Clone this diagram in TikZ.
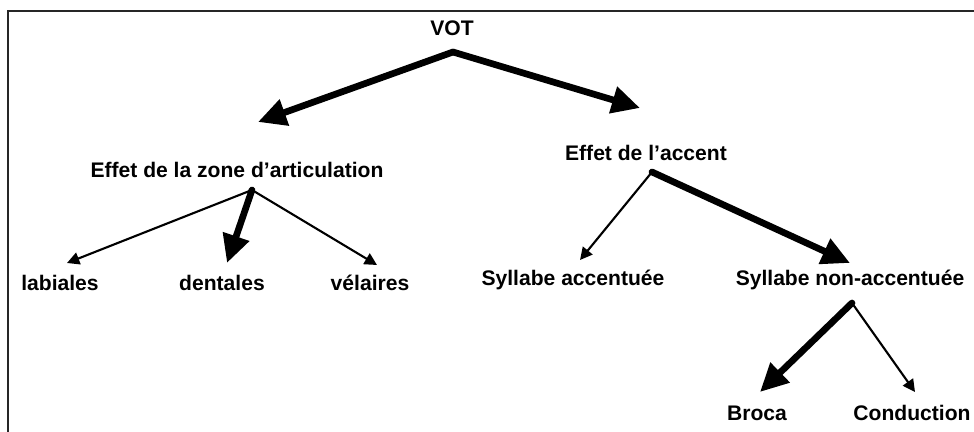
\documentclass[tikz,border=0pt]{standalone}
\usepackage{fontspec}
\setmainfont{Liberation Sans}
\usetikzlibrary{arrows.meta}

\begin{document}
\begin{tikzpicture}[
  x=0.02cm, y=-0.02cm,
  term/.style={font=\bfseries\fontsize{12}{14}\selectfont, inner sep=0pt},
  heavy/.style={line width=3.8pt, line cap=round, -{Triangle[length=16pt, width=15pt]}},
  light/.style={line width=1.2pt, line cap=round, -{Triangle[length=7pt, width=7pt]}}
]
  \useasboundingbox (0,0) rectangle (974,432);
  \clip (0,0) rectangle (974,432);
  \draw[line width=1.3pt, black!85] (8,11) rectangle (990,450);

  % Root
  \node[term] (vot) at (452,28) {VOT};
  \coordinate (vot-a) at (453,52);

  % Left: place of articulation
  \node[term] (zone) at (237,170) {Effet de la zone d'articulation};
  \coordinate (zone-a) at (252,190);
  \coordinate (zone-t) at (258,122);
  \node[term] (lab) at (60,283) {labiales};
  \node[term] (den) at (222,283) {dentales};
  \node[term] (vel) at (370,283) {vélaires};
  \coordinate (lab-t) at (67,263);
  \coordinate (den-t) at (227,263);
  \coordinate (vel-t) at (377,265);

  % Right: stress
  \node[term] (acc) at (646,153) {Effet de l'accent};
  \coordinate (acc-a) at (652,172);
  \coordinate (acc-t) at (640,108);
  \node[term] (sacc) at (573,280) {Syllabe accentuée};
  \node[term] (snacc) at (850,280) {Syllabe non-accentuée};
  \coordinate (sacc-t) at (580,260);
  \coordinate (snacc-t) at (850,263);
  \coordinate (snacc-a) at (852,303);

  % Aphasia types
  \node[term] (broca) at (757,413) {Broca};
  \node[term] (cond) at (912,413) {Conduction};
  \coordinate (broca-t) at (760,392);
  \coordinate (cond-t) at (915,392);

  \draw[heavy] (vot-a) -- (zone-t);
  \draw[heavy] (vot-a) -- (acc-t);
  \draw[light] (zone-a) -- (lab-t);
  \draw[heavy] (zone-a) -- (den-t);
  \draw[light] (zone-a) -- (vel-t);
  \draw[light] (acc-a) -- (sacc-t);
  \draw[heavy] (acc-a) -- (snacc-t);
  \draw[heavy] (snacc-a) -- (broca-t);
  \draw[light] (snacc-a) -- (cond-t);
\end{tikzpicture}
\end{document}
